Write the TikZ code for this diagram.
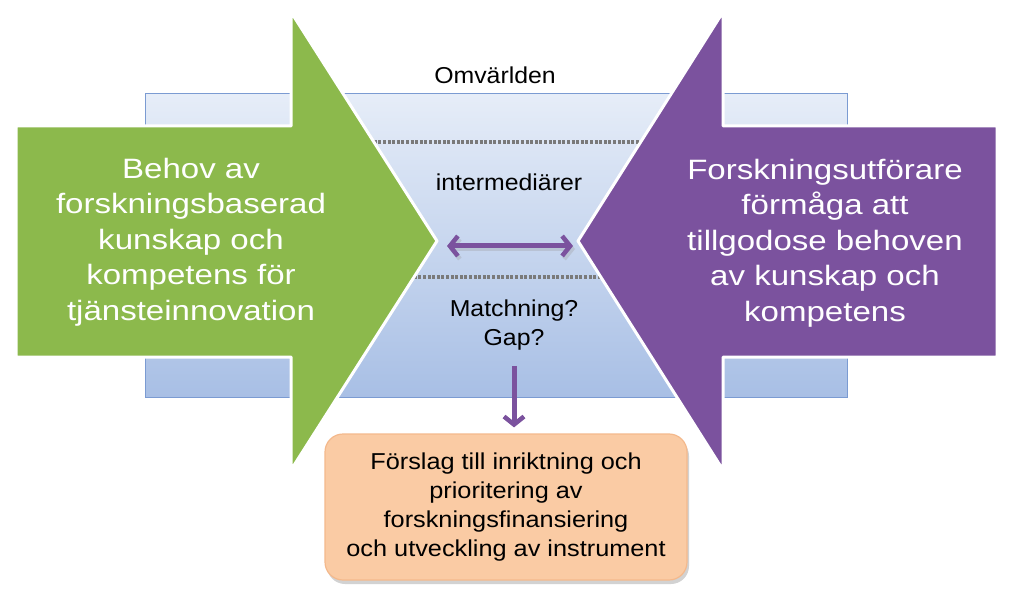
\documentclass[tikz,border=0pt]{standalone}
\usepackage{fontspec}
\setmainfont{Liberation Sans}
\newfontfamily\bigfont[FakeStretch=1.18]{Liberation Sans}
\newfontfamily\smallfont[FakeStretch=1.08]{Liberation Sans}
\newfontfamily\boxfont[FakeStretch=1.1]{Liberation Sans}
\usetikzlibrary{arrows.meta,shadows}
\definecolor{grn}{HTML}{8CB94C}
\definecolor{prp}{HTML}{7B529E}
\definecolor{bgtop}{HTML}{E6EDF8}
\definecolor{bgbot}{HTML}{A8BFE5}
\definecolor{bgedge}{HTML}{7B9BD2}
\definecolor{dotgray}{HTML}{7A7A7A}
\definecolor{peach}{HTML}{FACBA4}
\definecolor{peachedge}{HTML}{F4B98C}
\tikzset{
  bigarrow/.style={draw=white, line width=3pt, line join=round},
  dotline/.style={draw=dotgray, line width=3.5pt, dash pattern=on 3pt off 1.6pt},
  bigtext/.style={text=white, align=center, font=\bigfont\fontsize{28}{35.5}\selectfont},
  smalltext/.style={text=black, align=center, font=\smallfont\fontsize{23}{29}\selectfont},
  boxtext/.style={text=black, align=center, font=\boxfont\fontsize{23}{29}\selectfont},
  barb/.tip={Straight Barb[length=8pt,width=20pt,line width=4.5pt]},
  connector/.style={draw=prp, line width=5pt, -barb},
  dconnector/.style={draw=prp, line width=5pt, barb-barb},
  proposal/.style={draw=peachedge, line width=1.2pt, fill=peach, rounded corners=18pt,
    minimum width=362pt, minimum height=146pt,
    drop shadow={shadow xshift=2pt, shadow yshift=-4pt, opacity=0.35, fill=black!50}}
}
\begin{document}
\begin{tikzpicture}[x=1pt,y=-1pt]
\useasboundingbox (0,0) rectangle (1024,593);
\fill[white] (0,0) rectangle (1024,593);
% background "Omvärlden" band
\draw[draw=bgedge, line width=1pt, top color=bgtop, bottom color=bgbot] (145,94) rectangle (847,397);
% dotted separators
\draw[dotline] (360,142) -- (660,142);
\draw[dotline] (400,277) -- (620,277);
% green arrow
\draw[bigarrow, fill=grn] (16,126) -- (291,126) -- (291,12) -- (437,241) -- (291,470) -- (291,357) -- (16,357) -- cycle;
% purple arrow
\draw[bigarrow, fill=prp] (997,126) -- (723,126) -- (723,12) -- (578,241) -- (723,470) -- (723,357) -- (997,357) -- cycle;
\coordinate (gtip) at (437,246);
\coordinate (ptip) at (578,246);
% texts
\node[bigtext] (need) at (191,242) {Behov av\\forskningsbaserad\\kunskap och\\kompetens för\\tjänsteinnovation};
\node[bigtext] (abil) at (825,243) {Forskningsutförare\\förmåga att\\tillgodose behoven\\av kunskap och\\kompetens};
\node[smalltext] (omv) at (495,75) {Omvärlden};
\node[smalltext] (inter) at (509,182) {intermediärer};
\node[smalltext] (match) at (514,325) {Matchning?\\Gap?};
\node[proposal, boxtext] (prop) at (506,507) {Förslag till inriktning och\\prioritering av\\forskningsfinansiering\\och utveckling av instrument};
% connectors
\draw[draw=black!40, opacity=0.3, line width=5pt, shorten <=10pt, shorten >=5pt, barb-barb] ([xshift=2pt,yshift=-3pt]gtip) -- ([xshift=2pt,yshift=-3pt]ptip);
\draw[dconnector, shorten <=10pt, shorten >=5pt] (gtip) -- (ptip);
\draw[connector, shorten <=12pt, shorten >=6pt] (match.south) -- (match.south |- prop.north);
\end{tikzpicture}
\end{document}
